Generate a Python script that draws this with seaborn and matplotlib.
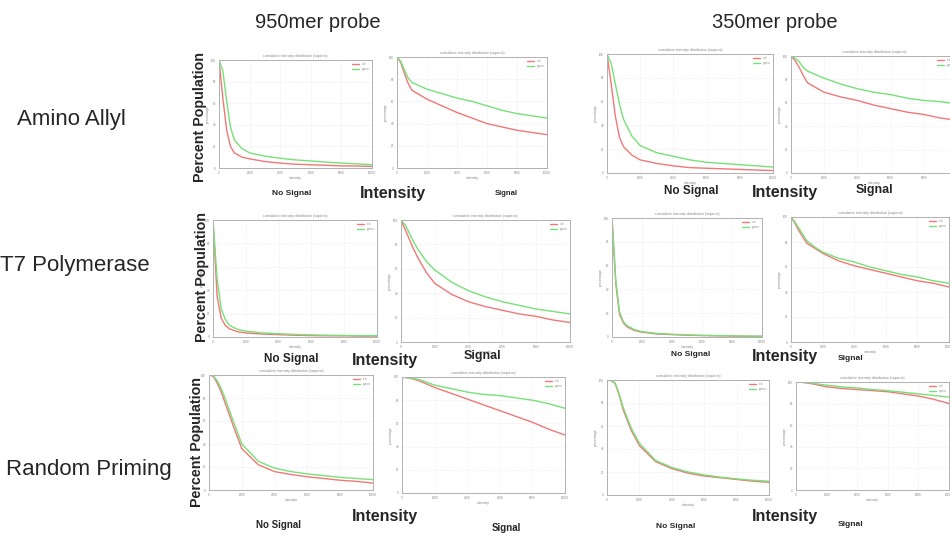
import matplotlib
matplotlib.use("Agg")
import matplotlib.pyplot as plt
import seaborn as sns
import pandas as pd

# ---------------- data (percent population vs intensity) ----------------
intensity = [0, 250, 500, 750, 1000, 1500, 2000, 3000, 4000, 5000, 6000, 7000, 8000, 9000, 10000]

# Amino Allyl, 950mer
aa950_nosig_red = [100, 65, 35, 20, 14, 10, 8.5, 6, 4.5, 3.5, 3, 2.5, 2, 1.8, 1.5]
aa950_nosig_green = [100, 90, 62, 38, 26, 18, 14, 11, 9, 7.5, 6.5, 5.5, 4.5, 3.8, 3]
aa950_sig_red = [100, 95, 85, 76, 70, 66, 62, 56, 50, 45, 40, 37, 34, 32, 30]
aa950_sig_green = [100, 96, 88, 81, 77, 74, 71, 67, 63, 60, 56, 52, 49, 47, 45]
# Amino Allyl, 350mer
aa350_nosig_red = [100, 75, 48, 30, 22, 15, 11, 8, 6, 4.5, 4, 3.5, 3, 2.5, 2]
aa350_nosig_green = [100, 92, 75, 58, 45, 31, 23, 17, 14, 11, 9, 8, 7, 6, 5]
aa350_sig_red = [100, 96, 90, 83, 77, 73, 69, 65, 62, 58, 55, 52, 50, 47, 45]
aa350_sig_green = [100, 98, 95, 90, 87, 84, 81, 76, 72, 69, 67, 64, 62, 61, 59]
# T7 Polymerase, 950mer
t7950_nosig_red = [100, 35, 16, 10, 7, 4.5, 3.5, 2.5, 2, 1.5, 1.2, 1, 1, 0.8, 0.8]
t7950_nosig_green = [100, 50, 24, 15, 10, 6.5, 5, 3.5, 2.8, 2.2, 1.8, 1.5, 1.3, 1.2, 1.2]
t7950_sig_red = [100, 92, 84, 76, 69, 57, 48, 39, 33, 29, 26, 23, 21, 18, 16]
t7950_sig_green = [100, 96, 89, 82, 76, 66, 59, 49, 42, 37, 33, 30, 27, 25, 23]
# T7 Polymerase, 350mer
t7350_nosig_red = [100, 45, 19, 12, 8.5, 5.5, 4, 2.5, 2, 1.5, 1.2, 1, 0.8, 0.6, 0.5]
t7350_nosig_green = [100, 48, 21, 13, 9.5, 6.2, 4.5, 3, 2.3, 1.8, 1.4, 1.2, 1, 0.8, 0.7]
t7350_sig_red = [100, 95, 89, 84, 79, 75, 71, 65, 61, 58, 55, 52, 49, 47, 44]
t7350_sig_green = [100, 96, 91, 86, 81, 76, 72, 67, 64, 60, 57, 54, 52, 49, 47]
# Random Priming, 950mer
rp950_nosig_red = [100, 99, 93, 85, 75, 55, 36, 22, 16, 13.5, 11.5, 10, 8.5, 7.5, 6]
rp950_nosig_green = [100, 99.5, 95, 88, 79, 59, 40, 25, 19, 16, 14, 12.5, 11, 10, 9]
rp950_sig_red = [100, 99.5, 99, 98, 97, 94, 91, 86, 81, 76, 71, 66, 61, 55, 50]
rp950_sig_green = [100, 99.5, 99, 98.5, 98, 95.5, 93, 90, 87, 85, 84, 82, 80, 77, 73]
# Random Priming, 350mer
rp350_nosig_red = [100, 99.5, 97, 87, 74, 56, 43, 29, 23, 19, 16.5, 15, 13.5, 12, 11]
rp350_nosig_green = [100, 99.5, 97.5, 88, 76, 58, 45, 30, 24, 20, 17.5, 15.5, 14, 12.8, 12]
rp350_sig_red = [100, 99.8, 99.5, 99, 98.5, 97, 95.5, 94, 93, 92, 91, 89, 87, 84, 80]
rp350_sig_green = [100, 99.9, 99.7, 99.3, 99, 98, 97, 95.5, 94.5, 93, 92, 90.5, 89, 87.5, 86]

probe_titles = ["950mer probe", "350mer probe"]
row_labels = ["Amino Allyl", "T7 Polymerase", "Random Priming"]
channels = ["red", "green"]
x_ticks = [0, 2000, 4000, 6000, 8000, 10000]
y_ticks = [0, 20, 40, 60, 80, 100]

# ---------------- style ----------------
sns.set_style("white")
plt.rcParams['font.family'] = ['Liberation Sans', 'DejaVu Sans']

RED = "#f07878"
GREEN = "#78e078"
W, H = 950, 538

fig = plt.figure(figsize=(9.5, 5.38), dpi=100)
fig.patch.set_facecolor("white")


def add_ax(l, t, r, b):
    return fig.add_axes([l / W, 1 - b / H, (r - l) / W, (b - t) / H])


panels = [
    ((219, 60, 372, 168), aa950_nosig_red, aa950_nosig_green),
    ((397, 57, 547, 168), aa950_sig_red, aa950_sig_green),
    ((607, 54, 773, 173), aa350_nosig_red, aa350_nosig_green),
    ((791, 56, 957, 173), aa350_sig_red, aa350_sig_green),
    ((213, 220, 377, 337), t7950_nosig_red, t7950_nosig_green),
    ((401, 220, 570, 342), t7950_sig_red, t7950_sig_green),
    ((612, 218, 762, 337), t7350_nosig_red, t7350_nosig_green),
    ((791, 217, 949, 342), t7350_sig_red, t7350_sig_green),
    ((209, 375, 373, 490), rp950_nosig_red, rp950_nosig_green),
    ((402, 377, 565, 493), rp950_sig_red, rp950_sig_green),
    ((607, 380, 769, 495), rp350_nosig_red, rp350_nosig_green),
    ((796, 382, 949, 490), rp350_sig_red, rp350_sig_green),
]

n = len(intensity)
for box, red, green in panels:
    ax = add_ax(*box)
    df = pd.DataFrame({
        "intensity": intensity * 2,
        "percent": red + green,
        "channel": [channels[0]] * n + [channels[1]] * n,
    })
    sns.lineplot(data=df, x="intensity", y="percent", hue="channel",
                 palette={"red": RED, "green": GREEN}, ax=ax,
                 linewidth=1.0, legend=True)
    ax.set_xlim(0, 10000)
    ax.set_ylim(0, 100)
    ax.set_xticks(x_ticks)
    ax.set_yticks(y_ticks)
    ax.tick_params(labelsize=2.2, colors="#888888", length=1.2, width=0.4, pad=1)
    ax.grid(True, color="#e8e8e8", linewidth=0.5, linestyle=(0, (1, 1)))
    for s in ax.spines.values():
        s.set_color("#b0b0b0")
        s.set_linewidth(0.7)
    ax.set_xlabel("intensity", fontsize=2.5, color="#888888", labelpad=1)
    ax.set_ylabel("percentage", fontsize=2.5, color="#888888", labelpad=1)
    ax.set_title("cumulative intensity distribution (sapiens)", fontsize=2.5,
                 color="#888888", pad=2)
    leg = ax.legend(loc="upper right", fontsize=2.2, frameon=False,
                    handlelength=2.5, borderpad=0.3, labelspacing=0.1)
    for t in leg.get_texts():
        t.set_color("#888888")

# ---------------- annotation texts ----------------
fig.text(318 / W, 1 - 22 / H, probe_titles[0], ha="center", va="center", fontsize=14.5)
fig.text(775 / W, 1 - 22 / H, probe_titles[1], ha="center", va="center", fontsize=14.5)

fig.text(17 / W, 1 - 120 / H, row_labels[0], ha="left", va="center", fontsize=16)
fig.text(0 / W, 1 - 265 / H, row_labels[1], ha="left", va="center", fontsize=16)
fig.text(6 / W, 1 - 470 / H, row_labels[2], ha="left", va="center", fontsize=16)

for yc, xc in [(117, 200), (277, 202), (442, 197)]:
    fig.text(xc / W, 1 - yc / H, "Percent Population", rotation=90, ha="center",
             va="center", fontsize=10.3, fontweight="bold")

labels = [
    ("No Signal", 292, 194, 6), ("Intensity", 393, 194, 11.5), ("Signal", 506, 194, 5.5),
    ("No Signal", 691, 191, 8.5), ("Intensity", 785, 192, 11.5), ("Signal", 874, 190, 9),
    ("No Signal", 291, 359, 8.5), ("Intensity", 385, 360, 11.5), ("Signal", 482, 356, 9),
    ("No Signal", 691, 354, 6), ("Intensity", 785, 357, 11.5), ("Signal", 851, 359, 6),
    ("No Signal", 278, 525, 7), ("Intensity", 385, 516, 11.5), ("Signal", 506, 528, 7),
    ("No Signal", 676, 526, 6), ("Intensity", 785, 517, 11.5), ("Signal", 851, 525, 6),
]
for txt, xc, yc, fs in labels:
    fig.text(xc / W, 1 - yc / H, txt, ha="center", va="center", fontsize=fs,
             fontweight="bold")

fig.savefig("out.png", dpi=100)
